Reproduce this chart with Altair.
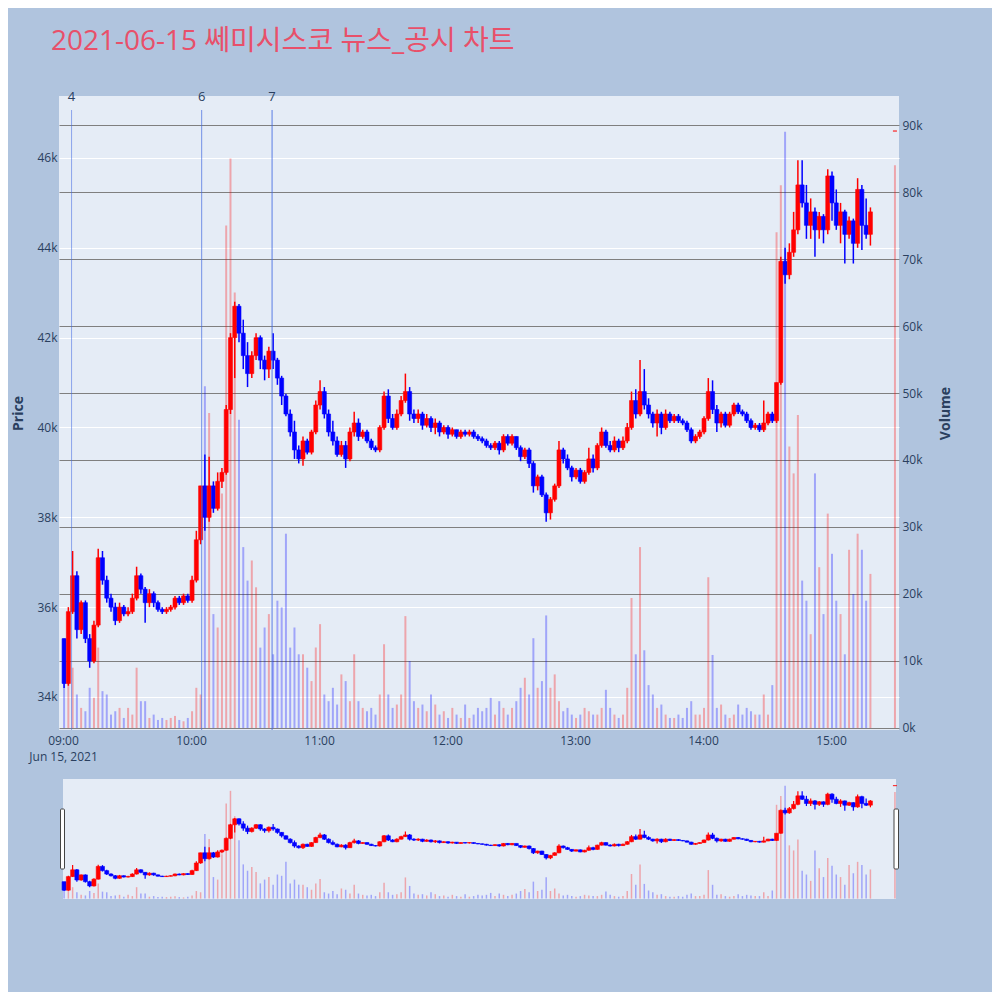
import altair as alt
import pandas as pd

TITLE = "2021-06-15 쎄미시스코 뉴스_공시 차트"

# 2-minute candles 09:00 .. 15:18, plus the 15:30 closing auction
times = [f"{9 + m // 60:02d}:{m % 60:02d}" for m in range(0, 380, 2)] + ["15:30"]

opens = [35300, 34300, 35900, 36700, 35500, 36100, 35300, 34800, 35600, 37100,
         36600, 36200, 36000, 35700, 36000, 35850, 35900, 36200, 36700, 36400,
         36100, 36300, 36100, 35950, 35900, 35950, 36000, 36200, 36100, 36250,
         36150, 36600, 37500, 38700, 38000, 38700, 38200, 38800, 39000, 40400,
         42000, 42700, 42100, 41600, 41200, 41600, 42000, 41500, 41300, 41700,
         41500, 41100, 40700, 40300, 39900, 39500, 39300, 39700, 39450, 39900,
         40500, 40800, 40300, 39900, 39700, 39400, 39600, 39300, 39900, 40100,
         39800, 39900, 39700, 39550, 39500, 40000, 40700, 40200, 40000, 40300,
         40600, 40800, 40300, 40200, 40300, 40050, 40200, 40000, 40100, 39900,
         40000, 39850, 39950, 39800, 39900, 39850, 39900, 39800, 39750, 39700,
         39600, 39550, 39650, 39500, 39800, 39650, 39800, 39550, 39350, 39500,
         39200, 38700, 38900, 38500, 38100, 38400, 38700, 39500, 39300, 39100,
         38900, 39050, 38800, 39000, 39300, 39100, 39600, 39900, 39600, 39500,
         39700, 39550, 39700, 40000, 40600, 40300, 40800, 40500, 40300, 40100,
         40300, 40000, 40300, 40150, 40250, 40150, 40100, 39950, 39700, 39800,
         39900, 40200, 40800, 40400, 40100, 40300, 40050, 40300, 40500, 40350,
         40300, 40150, 40000, 40050, 39950, 40100, 40300, 40150, 41000, 43700,
         43400, 43900, 44400, 45400, 45000, 44500, 44800, 44400, 44700, 44400,
         45600, 45000, 44500, 44800, 44300, 44600, 44100, 45300, 44500, 44300,
         46600]

closes = [34300, 35900, 36700, 35500, 36100, 35300, 34800, 35600, 37100, 36600,
          36200, 36000, 35700, 36000, 35850, 35900, 36200, 36700, 36400, 36100,
          36300, 36100, 35950, 35900, 35950, 36000, 36200, 36100, 36250, 36150,
          36600, 37500, 38700, 38000, 38700, 38200, 38800, 39000, 40400, 42000,
          42700, 42100, 41600, 41200, 41600, 42000, 41500, 41300, 41700, 41500,
          41100, 40700, 40300, 39900, 39500, 39300, 39700, 39450, 39900, 40500,
          40800, 40300, 39900, 39700, 39400, 39600, 39300, 39900, 40100, 39800,
          39900, 39700, 39550, 39500, 40000, 40700, 40200, 40000, 40300, 40600,
          40800, 40300, 40200, 40300, 40050, 40200, 40000, 40100, 39900, 40000,
          39850, 39950, 39800, 39900, 39850, 39900, 39800, 39750, 39700, 39600,
          39550, 39650, 39500, 39800, 39650, 39800, 39550, 39350, 39500, 39200,
          38700, 38900, 38500, 38100, 38400, 38700, 39500, 39300, 39100, 38900,
          39050, 38800, 39000, 39300, 39100, 39600, 39900, 39600, 39500, 39700,
          39550, 39700, 40000, 40600, 40300, 40800, 40500, 40300, 40100, 40300,
          40000, 40300, 40150, 40250, 40150, 40100, 39950, 39700, 39800, 39900,
          40200, 40800, 40400, 40100, 40300, 40050, 40300, 40500, 40350, 40300,
          40150, 40000, 40050, 39950, 40100, 40300, 40150, 41000, 43700, 43400,
          43900, 44400, 45400, 45000, 44500, 44800, 44400, 44700, 44400, 45600,
          45000, 44500, 44800, 44300, 44600, 44100, 45300, 44500, 44300, 44800,
          46600]

highs = [35300, 36000, 37250, 36800, 36150, 36150, 35400, 35700, 37300, 37250,
         36700, 36300, 36100, 36100, 36050, 36000, 36300, 36900, 36750, 36450,
         36400, 36350, 36150, 36000, 36000, 36050, 36250, 36250, 36300, 36300,
         36700, 37700, 38700, 39400, 39350, 38800, 39000, 39100, 40500, 42100,
         42800, 42750, 42400, 41900, 41700, 42100, 42050, 41600, 41800, 42100,
         41550, 41150, 40750, 40400, 40150, 39600, 39800, 39750, 39950, 40600,
         41050, 40900, 40400, 40150, 39800, 39700, 39700, 40000, 40350, 40200,
         39950, 39950, 39750, 39600, 40050, 40800, 40850, 40300, 40400, 40700,
         41200, 40900, 40400, 40400, 40350, 40300, 40250, 40200, 40150, 40050,
         40050, 40000, 39950, 39950, 39950, 39950, 39950, 39850, 39800, 39750,
         39650, 39700, 39700, 39850, 39850, 39850, 39800, 39600, 39550, 39550,
         39250, 38950, 38950, 38550, 38450, 38750, 39700, 39550, 39400, 39150,
         39100, 39100, 39050, 39550, 39400, 39650, 40000, 39950, 39700, 39800,
         39750, 39800, 40100, 40800, 40850, 41500, 41300, 40650, 40350, 40400,
         40350, 40400, 40350, 40300, 40300, 40200, 40150, 40000, 39850, 39950,
         40250, 41100, 41050, 40500, 40350, 40350, 40350, 40550, 40550, 40400,
         40350, 40200, 40100, 40100, 40600, 40350, 40350, 41000, 43800, 44000,
         44100, 44800, 45950, 45950, 45400, 45100, 44900, 44800, 44750, 45750,
         45700, 45300, 45000, 44850, 44700, 44650, 45550, 45400, 45100, 44900,
         46600]

lows = [34200, 34250, 35850, 35300, 35400, 35200, 34650, 34750, 35550, 36500,
        36100, 35900, 35600, 35650, 35800, 35800, 35850, 36150, 36300, 35650,
        36000, 36000, 35900, 35850, 35850, 35900, 35950, 36050, 36050, 36100,
        36100, 36550, 37400, 37700, 37900, 38100, 38150, 38650, 38950, 40300,
        41100, 41900, 41300, 40900, 41100, 41500, 41300, 41050, 41100, 41300,
        40950, 40500, 40250, 39800, 39300, 39200, 39150, 39400, 39400, 39850,
        40400, 40200, 39800, 39600, 39350, 39350, 39100, 39250, 39800, 39700,
        39750, 39650, 39500, 39450, 39450, 39950, 40100, 39950, 39950, 40250,
        40550, 40150, 40100, 40100, 39950, 40000, 39900, 39850, 39800, 39850,
        39750, 39800, 39750, 39750, 39800, 39800, 39750, 39700, 39650, 39550,
        39500, 39500, 39400, 39450, 39600, 39600, 39500, 39250, 39300, 39100,
        38550, 38600, 38450, 37900, 37950, 38350, 38650, 39200, 39050, 38800,
        38850, 38750, 38750, 38950, 39000, 39050, 39550, 39550, 39450, 39450,
        39450, 39500, 39650, 39950, 40200, 40250, 40400, 40200, 40000, 39800,
        39850, 39950, 40100, 40100, 40100, 40050, 39900, 39650, 39650, 39750,
        39850, 40150, 40300, 39900, 40000, 40000, 40000, 40250, 40300, 40250,
        40100, 39950, 39950, 39900, 39900, 40050, 40100, 40100, 40950, 43200,
        43300, 43800, 44300, 44900, 44200, 44200, 43800, 44200, 44100, 44300,
        44600, 44400, 44100, 43650, 44200, 43650, 44000, 43950, 44200, 44050,
        46600]

# volume in thousands of shares
volumes_k = [8, 7, 9, 5, 3, 2.5, 6, 4.5, 12, 5.5,
             5, 2, 2.5, 3, 1.5, 3, 2, 9, 4, 4,
             1.5, 2, 1.2, 1.5, 1.2, 1.5, 1.8, 1.2, 1, 1.5,
             2.5, 6, 5, 51, 47, 17, 15, 35, 75, 85,
             65, 46, 27, 22, 25, 21, 12, 15, 17, 11,
             19, 18, 29, 12, 15, 11, 11, 9, 7, 12,
             15.5, 5, 4, 6, 3.5, 8, 7, 4, 11, 4,
             3, 2.5, 3, 2, 5, 12.5, 5, 3, 3.5, 5,
             16.7, 10, 4, 3, 3.5, 2.5, 5, 3.5, 2, 2.5,
             1.5, 3, 2, 1.5, 3.5, 1.5, 2, 3, 2.5, 3,
             4.5, 2, 4, 3, 2, 3, 4, 6, 7.5, 5,
             13.4, 6, 7, 16.8, 6, 8, 4, 2.5, 3, 2,
             1.5, 2, 3, 2.5, 2, 2, 3, 5.7, 3, 2,
             1.5, 2, 6, 19.4, 11, 27, 11.6, 6.4, 5, 3,
             3.5, 2, 1.5, 1.5, 2, 1.5, 3, 4, 2, 2,
             3, 22.5, 10.9, 3, 3.5, 2, 1.5, 2, 3.5, 2,
             3, 2.5, 2, 2, 5, 2, 6.4, 74, 81, 89,
             42, 38, 46.7, 22, 19, 14, 38, 24, 17, 32,
             26, 19, 17, 11, 26.6, 20, 29, 26.6, 19, 23,
             84]

news_ids = ["4", "6", "7"]
news_times = ["09:04", "10:05", "10:38"]

price_ticks = [34000, 36000, 38000, 40000, 42000, 44000, 46000]
volume_ticks = [0, 10000, 20000, 30000, 40000, 50000, 60000, 70000, 80000, 90000]

# ---------------------------------------------------------------- tables
secs = [":30"] * (len(times) - 1) + [":00"]
df = pd.DataFrame({
    "t": ["2021-06-15T" + t + s for t, s in zip(times, secs)],
    "open": opens, "high": highs, "low": lows, "close": closes,
    "volume": [v * 1000 for v in volumes_k],
})
df["dir"] = ["up" if c >= o else "down" for o, c in zip(opens, closes)]

news = pd.DataFrame({"id": news_ids,
                     "t": ["2021-06-15T" + t + ":00" for t in news_times]})

W, H = 840, 634
SH = 120
FONT = "Open Sans"
TXT = "#2a3f5f"


def dt(h, m=0, s=0):
    return alt.DateTime(year=2021, month=6, date=15, hours=h, minutes=m, seconds=s)


xdom = [dt(8, 58, 7), dt(15, 31, 54)]
xscale = alt.Scale(domain=xdom, nice=False, padding=0)
price_scale = alt.Scale(domain=[33265, 47380], nice=False, zero=False)
vol_scale = alt.Scale(domain=[-300, 94330], nice=False, zero=False)
dir_scale = alt.Scale(domain=["up", "down"], range=["#FF0000", "#0000FF"])
color = alt.Color("dir:N", scale=dir_scale, legend=None)

xaxis = alt.Axis(
    values=[dt(h) for h in range(9, 16)],
    labelExpr="hours(datum.value) == 9 ? [timeFormat(datum.value, '%H:%M'), timeFormat(datum.value, '%b %-d, %Y')] : timeFormat(datum.value, '%H:%M')",
    grid=False, ticks=False, domain=False, labelFlush=False, labelOverlap=False,
    labelPadding=5, labelLineHeight=16, title=None,
)
price_axis = alt.Axis(
    orient="left", values=price_ticks, format="~s", title="Price",
    grid=True, gridColor="white", gridWidth=1, ticks=False, domain=False,
    labelPadding=2, titlePadding=11, titleFontWeight="bold", titleFontSize=14,
)
vol_axis = alt.Axis(
    orient="right", values=volume_ticks, format="~s", title="Volume",
    grid=True, gridColor="#7f7f7f", gridWidth=1, ticks=False, domain=False,
    labelPadding=3, titlePadding=30, titleFontWeight="bold", titleFontSize=14,
    titleAngle=270,
)

base = alt.Chart(df)
X = alt.X("t:T", scale=xscale, axis=xaxis)

vol = base.mark_bar(size=2, opacity=0.3).encode(
    x=X, y=alt.Y("volume:Q", scale=vol_scale, axis=vol_axis), color=color)

wick = base.mark_rule(strokeWidth=1.5).encode(
    x=X, y=alt.Y("low:Q", scale=price_scale, axis=price_axis), y2="high:Q", color=color)
body = base.mark_bar(size=4, strokeWidth=0.6).encode(
    x=X, y=alt.Y("open:Q", scale=price_scale), y2="close:Q", color=color,
    stroke=alt.Stroke("dir:N", scale=dir_scale, legend=None))

news_lines = alt.Chart(news).mark_rule(color="#4169E1", strokeWidth=1).encode(
    x=alt.X("t:T", scale=xscale),
    y=alt.value(14), y2=alt.value(H),
    opacity=alt.Opacity("id:N", scale=alt.Scale(domain=news_ids, range=[0.55, 0.85, 0.35]), legend=None),
)
news_text = alt.Chart(news).mark_text(font=FONT, fontSize=13, color=TXT, baseline="middle").encode(
    x=alt.X("t:T", scale=xscale), y=alt.value(1), text="id:N")

main = alt.layer(
    vol,
    alt.layer(wick, body, news_lines, news_text),
).resolve_scale(y="independent").properties(width=W, height=H)

# ---------------------------------------------------------------- range slider
XS = alt.X("t:T", scale=xscale, axis=None)
one = pd.DataFrame({"k": [0]})
s_bg = alt.Chart(one).mark_rect(color="#E5ECF6").encode(
    x=alt.value(4), x2=alt.value(837), y=alt.value(0), y2=alt.value(SH))
s_vol = base.mark_bar(size=1.5, opacity=0.3).encode(
    x=XS, y=alt.Y("volume:Q", scale=vol_scale, axis=None), color=color)
s_wick = base.mark_rule(strokeWidth=1.2).encode(
    x=XS, y=alt.Y("low:Q", scale=price_scale, axis=None), y2="high:Q", color=color)
s_body = base.mark_bar(size=4, strokeWidth=0.6).encode(
    x=XS, y=alt.Y("open:Q", scale=price_scale, axis=None), y2="close:Q", color=color,
    stroke=alt.Stroke("dir:N", scale=dir_scale, legend=None))
h_left = alt.Chart(one).mark_rect(fill="white", stroke="#444444", strokeWidth=1, cornerRadius=1).encode(
    x=alt.value(1.5), x2=alt.value(5.5), y=alt.value(30), y2=alt.value(90))
h_right = alt.Chart(one).mark_rect(fill="white", stroke="#444444", strokeWidth=1, cornerRadius=1).encode(
    x=alt.value(835), x2=alt.value(839.5), y=alt.value(30), y2=alt.value(90))

slider = alt.layer(
    s_bg, s_vol, alt.layer(s_wick, s_body), h_left, h_right,
).resolve_scale(y="independent").properties(
    width=W, height=SH, view=alt.ViewBackground(fill="transparent", stroke="transparent"))

chart = alt.vconcat(main, slider, spacing=16).resolve_scale(
    x="independent", y="independent"
).properties(
    title=alt.TitleParams(TITLE, anchor="start", font=f"{FONT}, Noto Sans CJK KR", fontSize=28,
                          fontWeight="normal", color="#E8506A", dx=39, offset=35),
    background="#B0C4DE",
    padding={"left": 3, "top": 20, "right": 39, "bottom": 92},
).configure_view(
    fill="#E5ECF6", stroke=None
).configure_axis(
    labelFont=FONT, labelFontSize=12, labelColor=TXT, titleFont=FONT, titleColor=TXT,
)

chart.save("out.html", embed_options={"renderer": "svg", "actions": False})
